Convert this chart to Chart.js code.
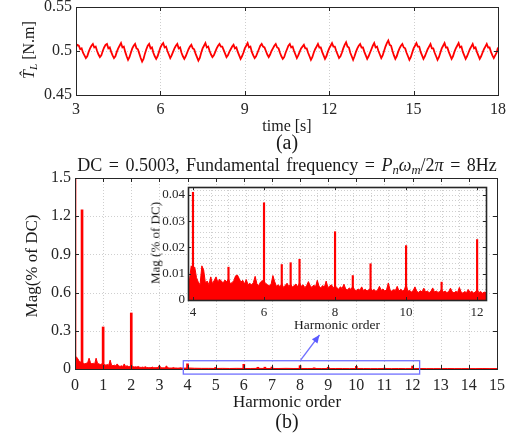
<!DOCTYPE html>
<html>
<head>
<meta charset="utf-8">
<script src="https://cdn.jsdelivr.net/npm/chart.js@4.4.1/dist/chart.umd.min.js"></script>
<style>
  body { margin: 0; background: #fff; }
  #page { position: relative; width: 516px; height: 436px; overflow: hidden; background: #fff; }
  canvas { position: absolute; }
  .lbl { position: absolute; transform: translate(-50%, -50%); white-space: nowrap;
         font-family: 'Liberation Serif', 'Times New Roman', serif; color: #1a1a1a; line-height: 1; }
  .rot { transform: translate(-50%, -50%) rotate(-90deg); }
  sub { font-size: 70%; vertical-align: -0.25em; }
</style>
</head>
<body>
<div id="page">
  <canvas id="torqueChart" width="516" height="163" style="left:0;top:-13px"></canvas>
  <canvas id="spectrumChart" width="516" height="286" style="left:0;top:150px"></canvas>
  <canvas id="zoomChart" width="380" height="163" style="left:130px;top:167px"></canvas>

  <div class="lbl rot" style="left:30px;top:50px;font-size:16px"><i>T&#770;</i><sub><i>L</i></sub> [N.m]</div>
  <div class="lbl" style="left:287px;top:126px;font-size:16px">time [s]</div>
  <div class="lbl" style="left:287px;top:142px;font-size:20px">(a)</div>
  <div class="lbl" style="left:287px;top:166px;font-size:18px;word-spacing:2px">DC = 0.5003, Fundamental frequency = <i>P</i><sub><i>n</i></sub><i>&omega;</i><sub><i>m</i></sub>/2<i>&pi;</i> = 8Hz</div>
  <div class="lbl rot" style="left:31px;top:266px;font-size:17px">Mag(% of DC)</div>
  <div class="lbl rot" style="left:155px;top:243px;font-size:13px">Mag (% of DC)</div>
  <div class="lbl" style="left:337px;top:325px;font-size:13.5px">Harmonic order</div>
  <div class="lbl" style="left:287px;top:401px;font-size:17px">Harmonic order</div>
  <div class="lbl" style="left:287px;top:421px;font-size:20px">(b)</div>
</div>
<script>
// (a) estimated load torque, sampled every 0.05 s from t = 3 s
const torqueStart = 3;
const torqueStep = 0.05;
const torque = [
  0.505,0.507,0.506,0.502,0.503,0.498,0.495,0.492,0.494,0.499,
  0.503,0.506,0.508,0.504,0.505,0.500,0.496,0.493,0.495,0.500,
  0.504,0.507,0.508,0.503,0.504,0.499,0.495,0.492,0.494,0.499,
  0.503,0.506,0.509,0.504,0.505,0.499,0.494,0.490,0.493,0.498,
  0.503,0.506,0.508,0.503,0.502,0.497,0.492,0.488,0.491,0.497,
  0.502,0.506,0.508,0.503,0.504,0.498,0.494,0.491,0.494,0.499,
  0.504,0.507,0.509,0.504,0.505,0.500,0.496,0.492,0.495,0.499,
  0.503,0.506,0.508,0.503,0.504,0.498,0.494,0.491,0.494,0.498,
  0.502,0.505,0.507,0.503,0.502,0.497,0.493,0.489,0.492,0.498,
  0.503,0.506,0.509,0.504,0.505,0.500,0.496,0.493,0.495,0.499,
  0.503,0.506,0.508,0.505,0.505,0.501,0.497,0.493,0.495,0.499,
  0.502,0.505,0.507,0.503,0.504,0.499,0.495,0.491,0.494,0.498,
  0.503,0.506,0.509,0.504,0.505,0.499,0.495,0.492,0.494,0.498,
  0.502,0.506,0.508,0.505,0.504,0.500,0.496,0.493,0.496,0.500,
  0.503,0.506,0.508,0.504,0.503,0.498,0.494,0.491,0.493,0.498,
  0.502,0.506,0.508,0.504,0.505,0.500,0.496,0.492,0.495,0.499,
  0.503,0.505,0.507,0.503,0.503,0.498,0.494,0.490,0.493,0.498,
  0.502,0.505,0.508,0.504,0.504,0.499,0.495,0.491,0.494,0.499,
  0.503,0.506,0.509,0.505,0.505,0.500,0.496,0.492,0.494,0.498,
  0.503,0.507,0.510,0.505,0.504,0.498,0.494,0.490,0.494,0.499,
  0.503,0.506,0.508,0.504,0.504,0.499,0.495,0.491,0.494,0.498,
  0.502,0.506,0.509,0.504,0.505,0.500,0.496,0.492,0.495,0.500,
  0.505,0.509,0.512,0.507,0.506,0.500,0.495,0.491,0.494,0.499,
  0.503,0.506,0.508,0.504,0.503,0.498,0.494,0.490,0.493,0.498,
  0.503,0.506,0.509,0.505,0.505,0.499,0.495,0.491,0.494,0.498,
  0.502,0.505,0.508,0.503,0.503,0.498,0.494,0.490,0.493,0.498,
  0.503,0.506,0.509,0.504,0.504,0.499,0.495,0.491,0.494,0.499,
  0.503,0.506,0.509,0.504,0.505,0.499,0.495,0.491,0.494,0.498,
  0.502,0.505,0.508,0.503,0.504,0.499,0.495,0.491,0.494,0.498,
  0.502,0.505,0.508,0.504,0.504,0.499,0.495,0.492,0.495,0.498,
  0.504
];
const timeTicks = [3, 6, 9, 12, 15, 18];
const torqueTicks = [0.45, 0.5, 0.55];

// (b) spectrum: noise floor from order 0 to 4 (step 0.05) and 4.25 to 15 (step 0.25)
const floorLowStep = 0.05;
const floorLow = [
  0.100,0.095,0.080,0.060,0.055,0.050,0.045,0.040,0.045,0.050,
  0.085,0.050,0.040,0.045,0.040,0.085,0.045,0.040,0.035,0.040,
  0.040,0.035,0.030,0.035,0.030,0.070,0.030,0.025,0.030,0.025,
  0.040,0.025,0.020,0.025,0.020,0.040,0.020,0.025,0.020,0.020,
  0.030,0.020,0.015,0.018,0.015,0.020,0.014,0.012,0.015,0.012,
  0.018,0.012,0.010,0.012,0.010,0.015,0.010,0.010,0.012,0.010,
  0.030,0.010,0.009,0.010,0.008,0.025,0.009,0.008,0.008,0.007,
  0.012,0.007,0.008,0.007,0.007,0.010,0.007,0.008,0.007,0.007,
  0.008
];
const floorHighStart = 4.25;
const floorHighStep = 0.25;
const floorHigh = [
  0.006,0.005,0.005,0.004,0.005,0.004,0.005,0.004,0.004,0.005,
  0.004,0.004,0.004,0.005,0.004,0.004,0.004,0.004,0.004,0.003,
  0.004,0.004,0.003,0.004,0.004,0.003,0.003,0.004,0.003,0.004,
  0.003,0.003,0.004,0.003,0.003,0.003,0.004,0.003,0.003,0.003,
  0.003,0.004,0.003,0.003
];
// distinct spectral lines (harmonic order, magnitude in % of DC)
const spikeOrders = [0, 0.25, 1, 2, 4, 5, 6, 6.5, 6.75, 7, 8, 8.5, 9, 10, 11, 12];
const spikeMags = [100, 1.25, 0.33, 0.44, 0.041, 0.0125, 0.037, 0.0135, 0.0142, 0.0155, 0.026, 0.0093, 0.0138, 0.0207, 0.0068, 0.023];
const orderTicks = [0,1,2,3,4,5,6,7,8,9,10,11,12,13,14,15];
const magTicks = [0, 0.3, 0.6, 0.9, 1.2, 1.5];

// zoomed view, order 3.85 to 12.25, step 0.05
const zoomStart = 3.85;
const zoomStep = 0.05;
const zoomFloor = [
  0.0080,0.0075,0.0130,0.0120,0.0125,0.0085,0.0068,0.0058,0.0130,0.0115,
  0.0065,0.0072,0.0058,0.0088,0.0062,0.0075,0.0088,0.0068,0.0079,0.0072,
  0.0065,0.0076,0.0069,0.0080,0.0062,0.0066,0.0074,0.0092,0.0095,0.0082,
  0.0068,0.0075,0.0061,0.0078,0.0058,0.0064,0.0057,0.0066,0.0090,0.0062,
  0.0055,0.0068,0.0074,0.0070,0.0063,0.0058,0.0054,0.0060,0.0093,0.0070,
  0.0052,0.0058,0.0050,0.0062,0.0048,0.0056,0.0064,0.0051,0.0060,0.0049,
  0.0055,0.0061,0.0050,0.0065,0.0052,0.0058,0.0047,0.0055,0.0070,0.0054,
  0.0048,0.0057,0.0050,0.0075,0.0052,0.0046,0.0055,0.0049,0.0072,0.0047,
  0.0053,0.0058,0.0045,0.0055,0.0047,0.0041,0.0050,0.0044,0.0060,0.0042,
  0.0038,0.0046,0.0040,0.0052,0.0039,0.0035,0.0042,0.0037,0.0050,0.0036,
  0.0041,0.0034,0.0039,0.0045,0.0036,0.0040,0.0033,0.0038,0.0052,0.0037,
  0.0042,0.0034,0.0039,0.0065,0.0038,0.0033,0.0040,0.0036,0.0052,0.0034,
  0.0041,0.0035,0.0038,0.0060,0.0033,0.0037,0.0030,0.0036,0.0050,0.0033,
  0.0029,0.0035,0.0031,0.0045,0.0030,0.0034,0.0028,0.0033,0.0046,0.0030,
  0.0034,0.0029,0.0032,0.0040,0.0030,0.0034,0.0028,0.0032,0.0045,0.0031,
  0.0027,0.0033,0.0029,0.0048,0.0030,0.0026,0.0032,0.0028,0.0040,0.0029,
  0.0033,0.0027,0.0030,0.0040,0.0028,0.0032,0.0026,0.0030,0.0028
];
const zoomTicksX = [4, 6, 8, 10, 12];
const zoomTicksY = [0, 0.01, 0.02, 0.03, 0.04];
const zoomGridX = [4,4.5,5,5.5,6,6.5,7,7.5,8,8.5,9,9.5,10,10.5,11,11.5,12];
const zoomGridY = [0.002,0.004,0.006,0.008,0.01,0.012,0.014,0.016,0.018,0.02,0.022,0.024,0.026,0.028,0.03,0.032,0.034,0.036,0.038,0.04,0.042];

const RED = '#ff0000';
const AXIS = '#262626';
const FONT = "'Liberation Serif', 'Times New Roman', serif";
Chart.defaults.font.family = FONT;
Chart.defaults.color = AXIS;
Chart.defaults.animation = false;
Chart.defaults.responsive = false;
Chart.defaults.devicePixelRatio = 1;
Chart.defaults.plugins.legend.display = false;
Chart.defaults.plugins.tooltip.enabled = false;

// MATLAB-like axes: dotted grid, box, inward ticks
const matlabAxes = {
  id: 'matlabAxes',
  beforeDatasetsDraw(chart, args, o) {
    const { ctx, chartArea: a, scales: { x, y } } = chart;
    ctx.save();
    if (o.fill) { ctx.fillStyle = '#fff'; ctx.fillRect(a.left, a.top, a.width, a.height); }
    ctx.strokeStyle = o.gridColor || '#cfcfcf';
    ctx.lineWidth = 1;
    ctx.setLineDash([1, 2]);
    ctx.beginPath();
    o.gridX.forEach(v => {
      const px = Math.round(x.getPixelForValue(v)) + 0.5;
      ctx.moveTo(px, a.top); ctx.lineTo(px, a.bottom);
    });
    o.gridY.forEach(v => {
      const py = Math.round(y.getPixelForValue(v)) + 0.5;
      ctx.moveTo(a.left, py); ctx.lineTo(a.right, py);
    });
    ctx.stroke();
    ctx.restore();
  },
  afterDatasetsDraw(chart, args, o) {
    const { ctx, chartArea: a, scales: { x, y } } = chart;
    const t = o.tickLen || 4;
    ctx.save();
    ctx.strokeStyle = AXIS;
    ctx.lineWidth = 1;
    ctx.beginPath();
    o.ticksX.forEach(v => {
      const px = Math.round(x.getPixelForValue(v)) + 0.5;
      ctx.moveTo(px, a.bottom); ctx.lineTo(px, a.bottom - t);
      ctx.moveTo(px, a.top); ctx.lineTo(px, a.top + t);
    });
    o.ticksY.forEach(v => {
      const py = Math.round(y.getPixelForValue(v)) + 0.5;
      ctx.moveTo(a.left, py); ctx.lineTo(a.left + t, py);
      ctx.moveTo(a.right, py); ctx.lineTo(a.right - t, py);
    });
    ctx.stroke();
    ctx.lineWidth = o.boxWidth || 1;
    ctx.strokeRect(Math.round(a.left) + 0.5, Math.round(a.top) + 0.5, Math.round(a.width), Math.round(a.height));
    ctx.restore();
  }
};

function fixedTicks(list) {
  return s => { s.ticks = list.map(v => ({ value: v })); };
}
function trimNum(v) {
  return String(parseFloat(Number(v).toFixed(4)));
}
const noGrid = { display: false, drawTicks: false, tickLength: 0 };

// ---- (a) torque vs time
new Chart('torqueChart', {
  type: 'line',
  data: {
    datasets: [{
      data: torque.map((v, i) => ({ x: torqueStart + i * torqueStep, y: v })),
      borderColor: RED,
      borderWidth: 1.8,
      pointRadius: 0,
      tension: 0
    }]
  },
  options: {
    layout: { padding: { top: 20, right: 18, left: 0, bottom: 0 } },
    scales: {
      x: {
        type: 'linear', min: 3, max: 18,
        afterBuildTicks: fixedTicks(timeTicks),
        afterFit: s => { s.height = 55; },
        grid: noGrid, border: { display: false },
        ticks: { font: { size: 16 }, padding: 5, maxRotation: 0, callback: trimNum }
      },
      y: {
        min: 0.45, max: 0.55,
        afterBuildTicks: fixedTicks(torqueTicks),
        afterFit: s => { s.width = 76; },
        grid: noGrid, border: { display: false },
        ticks: { font: { size: 16 }, padding: 4, callback: trimNum }
      }
    },
    plugins: {
      matlabAxes: { gridX: timeTicks, gridY: torqueTicks, ticksX: timeTicks, ticksY: torqueTicks, tickLen: 4 }
    }
  },
  plugins: [matlabAxes]
});

// ---- (b) harmonic spectrum
const floorPoints = floorLow.map((v, i) => ({ x: i * floorLowStep, y: v }))
  .concat(floorHigh.map((v, i) => ({ x: floorHighStart + i * floorHighStep, y: v })));
const spikePoints = spikeOrders.map((o, i) => ({ x: o, y: spikeMags[i] }));

const zoomBox = {
  id: 'zoomBox',
  afterDraw(chart) {
    const { ctx, scales: { x, y } } = chart;
    const x0 = x.getPixelForValue(3.85), x1 = x.getPixelForValue(12.25);
    const y0 = y.getPixelForValue(0.065), y1 = y.getPixelForValue(-0.04);
    ctx.save();
    ctx.strokeStyle = '#7070ff';
    ctx.fillStyle = '#5a5aff';
    ctx.lineWidth = 1.3;
    ctx.strokeRect(x0, y0, x1 - x0, y1 - y0);
    const ax = x.getPixelForValue(8.02), ay = y.getPixelForValue(0.07);
    const bx = x.getPixelForValue(8.69), by = y.getPixelForValue(0.267);
    ctx.beginPath(); ctx.moveTo(ax, ay); ctx.lineTo(bx, by); ctx.stroke();
    const ang = Math.atan2(by - ay, bx - ax), L = 8, W = 3.5;
    ctx.beginPath();
    ctx.moveTo(bx, by);
    ctx.lineTo(bx - L * Math.cos(ang) + W * Math.sin(ang), by - L * Math.sin(ang) - W * Math.cos(ang));
    ctx.lineTo(bx - L * Math.cos(ang) - W * Math.sin(ang), by - L * Math.sin(ang) + W * Math.cos(ang));
    ctx.closePath(); ctx.fill();
    ctx.restore();
  }
};

new Chart('spectrumChart', {
  type: 'bar',
  data: {
    datasets: [
      { type: 'line', data: floorPoints, borderColor: RED, backgroundColor: RED, borderWidth: 1,
        pointRadius: 0, fill: 'origin', tension: 0 },
      { type: 'bar', data: spikePoints, backgroundColor: RED, barThickness: 2 }
    ]
  },
  options: {
    layout: { padding: { top: 28, right: 19, left: 0, bottom: 0 } },
    scales: {
      x: {
        type: 'linear', min: 0, max: 15, offset: false,
        afterBuildTicks: fixedTicks(orderTicks),
        afterFit: s => { s.height = 67; },
        grid: noGrid, border: { display: false },
        ticks: { font: { size: 16 }, padding: 7, maxRotation: 0, autoSkip: false, callback: trimNum }
      },
      y: {
        min: 0, max: 1.5,
        afterBuildTicks: fixedTicks(magTicks),
        afterFit: s => { s.width = 75; },
        grid: noGrid, border: { display: false },
        ticks: { font: { size: 16 }, padding: 4, callback: trimNum }
      }
    },
    plugins: {
      matlabAxes: { gridX: orderTicks, gridY: magTicks, ticksX: orderTicks, ticksY: magTicks, tickLen: 4 }
    }
  },
  plugins: [matlabAxes, zoomBox]
});

// ---- inset zoom
new Chart('zoomChart', {
  type: 'bar',
  data: {
    datasets: [
      { type: 'line', data: zoomFloor.map((v, i) => ({ x: zoomStart + i * zoomStep, y: v })),
        borderColor: RED, backgroundColor: RED, borderWidth: 1, pointRadius: 0, fill: 'origin', tension: 0 },
      { type: 'bar', data: spikePoints, backgroundColor: RED, barThickness: 1.5 }
    ]
  },
  options: {
    layout: { padding: { top: 20, right: 24, left: 0, bottom: 0 } },
    scales: {
      x: {
        type: 'linear', min: 3.86, max: 12.25, offset: false,
        afterBuildTicks: fixedTicks(zoomTicksX),
        afterFit: s => { s.height = 30; },
        grid: noGrid, border: { display: false },
        ticks: { font: { size: 13 }, padding: 5, maxRotation: 0, autoSkip: false, callback: trimNum }
      },
      y: {
        min: 0, max: 0.043,
        afterBuildTicks: fixedTicks(zoomTicksY),
        afterFit: s => { s.width = 58; },
        grid: noGrid, border: { display: false },
        ticks: { font: { size: 13 }, padding: 3, callback: trimNum }
      }
    },
    plugins: {
      matlabAxes: { fill: true, gridX: zoomGridX, gridY: zoomGridY, ticksX: zoomTicksX, ticksY: zoomTicksY,
                    tickLen: 3, boxWidth: 1.6 }
    }
  },
  plugins: [matlabAxes]
});
</script>
</body>
</html>
